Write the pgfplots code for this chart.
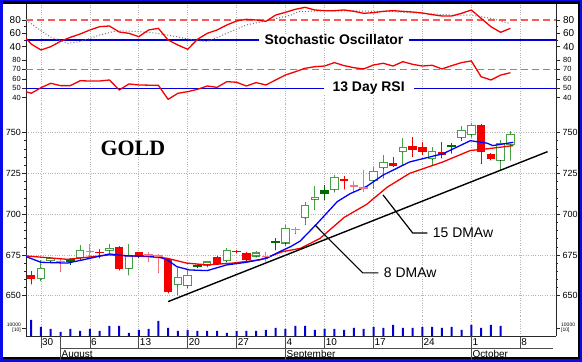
\documentclass[border=0pt]{standalone}
\usepackage{pgfplots}
\pgfplotsset{compat=1.18}
\usepackage{pgfplotstable}
\usepackage{fontspec}
\setmainfont{Liberation Sans}
\newfontfamily\goldfont{Liberation Serif}

\definecolor{cgreen}{RGB}{70,160,70}
\definecolor{dgreen}{RGB}{0,105,0}
\definecolor{cred}{RGB}{245,0,0}
\definecolor{cpink}{RGB}{245,115,125}
\definecolor{dashred}{RGB}{250,90,90}
\definecolor{gridc}{RGB}{180,180,180}
\definecolor{fblue}{RGB}{10,10,235}
\definecolor{lblue}{RGB}{0,0,215}
\definecolor{mablue}{RGB}{0,0,255}

% up candles (hollow green)
\pgfplotstableread{
i o h l c
0 660 672 659 667
1 671 674 670 673
4 673 681 672 678
7 677.5 682 676 679.5
9 666.5 682 662.5 675
14 656.5 667 650.5 661.5
15 656 666 655 663
17 668.3 671.5 667.5 671
19 671 679 670.5 678
22 674 677.5 673.5 676.5
25 682 693.4 680.5 691.3
27 697.5 707.7 693.4 705.6
28 708.7 717 702.6 710.7
30 714.8 724 713.5 722.6
34 720.5 729 716 726.6
35 728 736.3 722 732.2
37 738 746.5 730 741.4
40 733.6 741.4 730.1 738.9
43 746.5 754 745 751.6
44 748.5 756 747 754.7
47 732.8 745.5 727 743.8
48 742.4 751.2 733 749
}\upT
% down candles (red filled)
\pgfplotstableread{
i o h l c
-1 663 665 657 660
8 680 680.5 665.5 666.5
10 676.5 677 673 674
13 672.5 673 651.5 652.5
18 674 674.5 669 669.5
21 676 676.5 671.5 672
36 731.6 734.8 729 729.7
38 741.8 747.5 735.2 739.3
39 741 744.4 736.3 738.3
41 737.9 744.4 734.2 736.3
45 754.7 755 731 738.3
46 736.7 737.5 733 733.6
}\downT
% dark green filled candles
\pgfplotstableread{
i o h l c
3 670.5 673 669 672.3
16 667.5 669.5 667 668.7
29 712.4 718 708.7 715
}\dgT
% doji: red
\pgfplotstableread{
i o h l
6 676.5 678.5 673
20 677 678 676
31 721 723.4 715.2
}\rdojiT
% doji: pink
\pgfplotstableread{
i o h l
2 671 672.5 665
5 677 682 674
11 675 676.5 671
12 674.5 675.5 664
23 674 677 671
26 690.7 692 688
32 717.3 720 713.8
33 716 727 714
}\pdojiT
% doji: green
\pgfplotstableread{
i o h l
24 682.8 685.2 678
42 741.8 743.4 737.3
}\gdojiT
% volume
\pgfplotstableread{
i v
-1 20000
0 11250
1 8750
2 5000
3 8750
4 6250
5 8750
6 6250
7 12500
8 12500
9 3750
10 7500
11 8750
12 18750
13 10000
14 6250
15 7500
16 6250
17 6250
18 6250
19 3750
20 6250
21 6250
22 6250
23 7500
24 10000
25 8750
26 12500
27 12500
28 7500
29 8750
30 8750
31 7500
32 10000
33 8750
34 11250
35 10000
36 13750
37 10000
38 10000
39 11250
40 11250
41 10000
42 11250
43 7500
44 13750
45 10000
46 13750
47 12500
}\volT

\pgfplotsset{
  base/.style={scale only axis, width=530bp, xmin=-1.53, xmax=52.66, anchor=south west,
    separate axis lines, axis line style={line width=0.6bp, black!85},
    x axis line style={draw=none},
    xtick={0,5,10,15,20,25,29,34,39,44,49}, xticklabels={}, xtick style={draw=none},
    xmajorgrids, major grid style={gridc, dotted, line width=0.7bp},
    tick align=outside, major tick length=4bp, minor tick length=2bp,
    ytick style={line width=0.5bp, black!85},
    /pgf/number format/assume math mode=true,
    yticklabel style={inner sep=1bp},
  },
  rlab/.style={base, yticklabel pos=right, axis line style={draw=none},
    ytick style={draw=none}, xmajorgrids=false, ymajorgrids=false, minor y tick num=0},
  nomark/.style={only marks, mark=*, mark size=0.01pt, mark options={draw=none, fill=none}, forget plot},
  wick/.style={nomark,
    error bars/y dir=plus, error bars/y explicit, error bars/error mark=none,
    error bars/error bar style={line width=1bp, #1}},
  body/.style={nomark,
    error bars/y dir=plus, error bars/y explicit, error bars/error mark=none,
    error bars/error bar style={line width=8.5bp, #1}},
  inner/.style={nomark,
    error bars/y dir=plus, error bars/y explicit, error bars/error mark=none,
    error bars/error bar style={line width=6.5bp, white, shorten <=1.1bp, shorten >=1.1bp}},
  doji/.style={only marks, mark=-, mark size=4.25bp, mark options={line width=1.6bp, draw=#1}, forget plot},
}

\begin{document}
\begin{tikzpicture}
\useasboundingbox (0,0) rectangle (582bp,362bp);
\fill[fblue] (0,0) rectangle (582bp,362bp);
\fill[black] (3bp,3bp) rectangle (580bp,360.5bp);
\fill[white] (3bp,5bp) rectangle (577.5bp,358bp);

% ---------------- Stochastic ----------------
\begin{axis}[base, at={(26bp,309bp)}, height=49bp, ymin=30.5, ymax=104,
  ytick={40,60,80}, minor y tick num=1,
  yticklabel style={font=\fontsize{10}{10}\selectfont}]
\addplot[lblue, line width=1.2bp] coordinates {(-1.53,50) (52.66,50)};
\addplot[dashred, line width=1.1bp, dash pattern=on 7bp off 4bp] coordinates {(-1.53,80) (52.66,80)};
\addplot[black!55, dotted, line width=1bp] coordinates {
(-1.53,80) (-0.4,68) (0.9,55) (2.8,45) (4,47.5) (6,57.5) (7.8,64) (10.1,62.5)
(11.9,60) (13.9,55) (15.5,50) (17,47.5) (19,60) (21,72.5) (23.1,79) (25.6,87.5)
(26.3,92.5) (28.9,94) (32.4,93.5) (35.8,92.5) (39.2,90) (41.9,87.5) (44,87.5)
(46,82.5) (47.9,75)};
\addplot[cred, line width=1.3bp] coordinates {
(-1.53,52.5) (-1,44) (0,35) (1,40) (2,48) (3,54) (4,59) (5,65) (6,70) (7,71)
(8,62) (9,60) (10,55) (11,65) (12,67.5) (13,50) (14,42.5) (15,36) (16,51) (17,60)
(18,65) (19,72.5) (20,78.5) (21,81) (22,80) (23,78) (24,87.5) (25,91.5) (26,96)
(27,99) (28,95) (29,94) (30,94) (31,95) (32,93) (33,90) (34,91) (35,93) (36,94)
(37,93) (38,92) (39,90.5) (40,88) (41,86) (42,86) (43,90) (44,95) (45,82.5)
(46,70) (47,61.5) (48,67.5)};
\node[fill=white, inner xsep=6bp, inner ysep=0.5bp, font=\bfseries\fontsize{14}{14}\selectfont]
  at (axis cs:29.96,50) {Stochastic Oscillator};
\end{axis}
\begin{axis}[rlab, at={(26bp,309bp)}, height=49bp, ymin=30.5, ymax=104,
  ytick={40,60,80}, yticklabel style={font=\fontsize{10}{10}\selectfont, inner sep=1bp, xshift=2bp}]
\addplot[draw=none] coordinates {(0,50)};
\end{axis}

% ---------------- RSI ----------------
\begin{axis}[base, at={(26bp,259bp)}, height=50bp, ymin=34.4, ymax=87.4,
  ytick={40,50,60,70,80},
  yticklabel style={font=\fontsize{7.5}{7.5}\selectfont}]
\addplot[lblue, line width=1.2bp] coordinates {(-1.53,50) (52.66,50)};
\addplot[dashred, line width=1.1bp, dash pattern=on 7bp off 4bp] coordinates {(-1.53,70) (52.66,70)};
\addplot[cred, line width=1.3bp] coordinates {
(-1.53,46.4) (-1,44.7) (0,50.6) (1,55.3) (2,52.8) (3,52.8) (4,58) (5,57.7) (6,57.7)
(7,58.8) (8,48.2) (9,54.6) (10,53.5) (11,53.3) (12,53.2) (13,38.3) (14,44.7)
(15,46.4) (16,48.9) (17,52.4) (18,51) (19,57) (20,56.4) (21,52.4) (22,56) (23,53.5)
(24,58.8) (25,64.1) (26,67.5) (27,71.2) (28,72.9) (29,73.6) (30,77.2) (31,74)
(32,71.8) (33,70.5) (34,74.7) (35,76.5) (36,73.6) (37,78.2) (38,75.4) (39,73.6)
(40,74.4) (41,70.5) (42,74) (43,77.2) (44,79) (45,62.3) (46,58.8) (47,64) (48,66.5)};
\node[fill=white, inner xsep=9bp, inner ysep=0.5bp, font=\bfseries\fontsize{14}{14}\selectfont]
  at (axis cs:33.5,50) {13 Day RSI};
\end{axis}
\begin{axis}[rlab, at={(26bp,259bp)}, height=50bp, ymin=34.4, ymax=87.4,
  ytick={40,50,60,70,80}, yticklabel style={font=\fontsize{7.5}{7.5}\selectfont, inner sep=1bp, xshift=2bp}]
\addplot[draw=none] coordinates {(0,50)};
\end{axis}

% ---------------- Price ----------------
\begin{axis}[base, at={(26bp,47bp)}, height=212bp, ymin=638.2, ymax=768.1,
  ytick={650,675,700,725,750}, minor y tick num=4, ymajorgrids,
  yticklabel style={font=\fontsize{9}{9}\selectfont}]
% wicks
\addplot[wick=cgreen] table[x=i, y=l, y error plus expr=\thisrow{h}-\thisrow{l}] {\upT};
\addplot[wick=cred] table[x=i, y=l, y error plus expr=\thisrow{h}-\thisrow{l}] {\downT};
\addplot[wick=dgreen] table[x=i, y=l, y error plus expr=\thisrow{h}-\thisrow{l}] {\dgT};
\addplot[wick=cred] table[x=i, y=l, y error plus expr=\thisrow{h}-\thisrow{l}] {\rdojiT};
\addplot[wick=cpink] table[x=i, y=l, y error plus expr=\thisrow{h}-\thisrow{l}] {\pdojiT};
\addplot[wick=dgreen] table[x=i, y=l, y error plus expr=\thisrow{h}-\thisrow{l}] {\gdojiT};
% bodies
\addplot[body=cgreen] table[x=i, y=o, y error plus expr=\thisrow{c}-\thisrow{o}] {\upT};
\addplot[inner] table[x=i, y=o, y error plus expr=\thisrow{c}-\thisrow{o}] {\upT};
\addplot[body=cred] table[x=i, y=c, y error plus expr=\thisrow{o}-\thisrow{c}] {\downT};
\addplot[body=dgreen] table[x=i, y=o, y error plus expr=\thisrow{c}-\thisrow{o}] {\dgT};
\addplot[doji=cred] table[x=i, y=o] {\rdojiT};
\addplot[doji=cpink] table[x=i, y=o] {\pdojiT};
\addplot[doji=dgreen] table[x=i, y=o] {\gdojiT};
% 15 DMAw
\addplot[cred, line width=1.3bp] coordinates {
(-1.53,674.4) (2.7,672.3) (7,675) (10.8,674) (12.9,673) (14.9,670) (17,668.9)
(19.6,670) (22.4,672) (24.7,677) (26.5,679) (28.5,685) (31,698) (33.3,706)
(35.4,716.5) (37.7,725) (41.1,732) (43.9,739) (45.6,740) (48.3,742)};
% 8 DMAw
\addplot[mablue, line width=1.3bp] coordinates {
(-1.53,674) (0,670.5) (2.7,670) (4.3,672) (7,675.6) (8.8,674.4) (10.8,674.4)
(12,674) (12.9,672) (13.9,667.8) (15.2,665.8) (17,665.4) (19,668.9) (21,670.5)
(23.1,673) (24.4,677) (25.5,680) (26.5,683.5) (28.2,694) (30.3,707.7) (31.6,712.5)
(33.3,717) (35,724) (37.7,732) (41.1,737) (43.9,745) (45.6,743.5) (46.2,742) (48.3,744)};
% trend line
\addplot[black, line width=1.4bp] coordinates {(13,646.4) (51.8,738.3)};
\draw[black, line width=1.2bp] (axis cs:28,693.4) -- (axis cs:32.9,664) -- (axis cs:34.5,664)
  node[right, inner sep=5bp, font=\fontsize{14}{14}\selectfont] {8 DMAw};
\draw[black, line width=1.2bp] (axis cs:34.97,711.8) -- (axis cs:38,688.5) -- (axis cs:39.5,688.5)
  node[right, inner sep=5bp, font=\fontsize{14}{14}\selectfont] {15 DMAw};
\node[font=\goldfont\bfseries\fontsize{22}{22}\selectfont] at (axis cs:9.4,740.6) {GOLD};
\end{axis}
\begin{axis}[rlab, at={(26bp,47bp)}, height=212bp, ymin=638.2, ymax=768.1,
  ytick={650,675,700,725,750}, yticklabel style={font=\fontsize{9}{9}\selectfont, inner sep=1bp, xshift=1.5bp}]
\addplot[draw=none] coordinates {(0,700)};
\end{axis}

% ---------------- Volume ----------------
\begin{axis}[base, at={(26bp,26bp)}, height=21bp, ymin=0, ymax=26250,
  ytick={10000}, scaled y ticks=false, yticklabels={{10000\\{[}10{]}}},
  yticklabel style={font=\fontsize{5}{5}\selectfont, align=right}]
\addplot[ybar, bar width=2bp, fill=lblue, draw=none] table[x=i, y=v] {\volT};
\end{axis}
\begin{axis}[rlab, at={(26bp,26bp)}, height=21bp, ymin=0, ymax=26250,
  ytick={10000}, scaled y ticks=false, yticklabels={{10000\\{[}10{]}}},
  yticklabel style={font=\fontsize{5}{5}\selectfont, align=left, inner sep=1bp}]
\addplot[draw=none] coordinates {(0,5000)};
\end{axis}

% ---------------- Date axis ----------------
\begin{axis}[scale only axis, width=530bp, height=21bp, at={(26bp,26bp)}, anchor=south west,
  xmin=-1.53, xmax=52.66, ymin=0, ymax=1, axis y line=none, axis x line*=bottom,
  x axis line style={line width=0.6bp, black!85}, clip=false,
  xtick={0,5,10,15,20,25,29,34,39,44,49}, xticklabels={30,6,13,20,27,4,10,17,24,1,8},
  tick align=outside, major tick length=12bp, xtick style={line width=0.6bp, black!70},
  xticklabel style={anchor=north west, inner sep=0.5bp, xshift=0.5bp, yshift=10bp,
    font=\fontsize{10}{10}\selectfont}]
\addplot[draw=none] coordinates {(0,0.5)};
\draw[black!70, line width=0.6bp] ([yshift=-12bp]axis cs:2,0) -- ([yshift=-12bp]axis cs:52.4,0);
\end{axis}
\begin{axis}[scale only axis, width=530bp, height=21bp, at={(26bp,26bp)}, anchor=south west,
  xmin=-1.53, xmax=52.66, ymin=0, ymax=1, axis y line=none, axis x line*=bottom,
  x axis line style={draw=none},
  xtick={2,25,44}, xticklabels={August,September,October},
  tick align=outside, major tick length=24bp, xtick style={line width=0.6bp, black!70},
  xticklabel style={anchor=north west, inner sep=0.5bp, xshift=0.5bp, yshift=10bp,
    font=\fontsize{10}{10}\selectfont}]
\addplot[draw=none] coordinates {(0,0.5)};
\end{axis}
\end{tikzpicture}
\end{document}
